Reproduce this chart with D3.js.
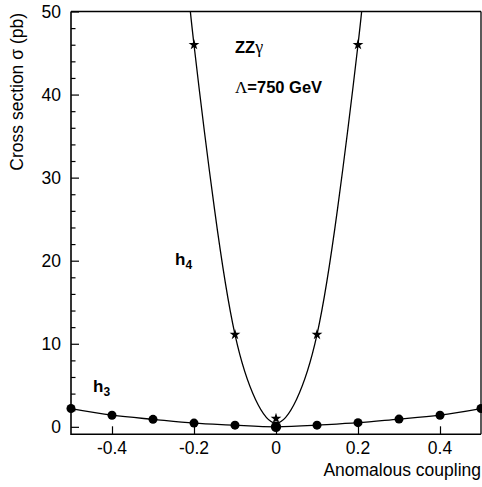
<!DOCTYPE html>
<html>
<head>
<meta charset="utf-8">
<script src="https://cdn.jsdelivr.net/npm/d3@7"></script>
<style>
  html, body { margin: 0; padding: 0; background: #fff; }
  svg { display: block; font-family: "Liberation Sans", Arial, Helvetica, sans-serif; }
</style>
</head>
<body>
<svg id="chart" width="482" height="487"></svg>
<script>
// ---- data ----
const h3X = [-0.5, -0.4, -0.3, -0.2, -0.1, 0, 0.1, 0.2, 0.3, 0.4, 0.5];
const h3Y = [2.2, 1.4, 0.9, 0.45, 0.2, 0.0, 0.2, 0.5, 0.93, 1.4, 2.2];
const h4X = [-0.2, -0.1, 0, 0.1, 0.2];
const h4Y = [46, 11.1, 1.0, 11.1, 46];
// smooth curve drawn through h4
const h4CurveX = [-0.215, -0.2, -0.15, -0.1, -0.05, 0, 0.05, 0.1, 0.15, 0.2, 0.215];
const h4CurveY = [53.3, 46, 26.2, 11.1, 3.3, 0.45, 3.3, 11.1, 26.2, 46, 53.3];
const xTicks = [-0.4, -0.2, 0, 0.2, 0.4];
const xTickLabels = ["-0.4", "-0.2", "0", "0.2", "0.4"];
const yTicks = [0, 10, 20, 30, 40, 50];
const yMinorTicks = d3.range(0, 51, 2);
const xTitle = "Anomalous coupling";
const yTitle = "Cross section σ (pb)";

// ---- layout ----
const L = 71, R = 481, T = 11.5, B = 434.3;
const svg = d3.select("#chart");
const x = d3.scaleLinear().domain([-0.5, 0.5]).range([L, R]);
const y = d3.scaleLinear().domain([-0.9, 50]).range([B, T]);

svg.append("defs").append("clipPath").attr("id", "clip")
  .append("rect").attr("x", L).attr("y", T).attr("width", R - L).attr("height", B - T);

// frame
svg.append("line").attr("x1", L).attr("x2", R).attr("y1", T).attr("y2", T)
  .attr("stroke", "#000").attr("stroke-width", 1.3);
svg.append("line").attr("x1", R).attr("x2", R).attr("y1", T).attr("y2", B)
  .attr("stroke", "#000").attr("stroke-width", 1.3);

// y axis (ticks inward)
const yAxis = d3.axisRight(y).tickValues(yTicks).tickSize(8).tickFormat("");
const gy = svg.append("g").attr("transform", `translate(${L},0)`).call(yAxis);
gy.select(".domain").remove();
const yMinor = d3.axisRight(y).tickValues(yMinorTicks.filter(v => v % 10 !== 0)).tickSize(4.5).tickFormat("");
const gym = svg.append("g").attr("transform", `translate(${L},0)`).call(yMinor);
gym.select(".domain").remove();
svg.selectAll(".tick line").attr("stroke", "#000").attr("stroke-width", 1.2);

svg.append("g").selectAll("text").data(yTicks).join("text")
  .attr("x", L - 10).attr("y", d => y(d)).attr("dy", "0.36em")
  .attr("text-anchor", "end").attr("font-size", 17.5).text(d => d);

// x axis (ticks inward)
const xAxis = d3.axisTop(x).tickValues(xTicks).tickSize(8).tickFormat("");
const gx = svg.append("g").attr("transform", `translate(0,${B})`).call(xAxis);
gx.select(".domain").remove();
gx.selectAll(".tick line").attr("stroke", "#000").attr("stroke-width", 1.2);
svg.append("g").selectAll("text").data(xTicks).join("text")
  .attr("x", d => x(d)).attr("y", 454)
  .attr("text-anchor", "middle").attr("font-size", 17.5)
  .text((d, i) => xTickLabels[i]);

// axis lines
svg.append("line").attr("x1", L).attr("x2", L).attr("y1", T).attr("y2", B + 0.8)
  .attr("stroke", "#000").attr("stroke-width", 1.6);
svg.append("line").attr("x1", L).attr("x2", R).attr("y1", B).attr("y2", B)
  .attr("stroke", "#000").attr("stroke-width", 1.6);

// titles
svg.append("text").attr("x", R).attr("y", 476).attr("text-anchor", "end")
  .attr("font-size", 17.5).text(xTitle);
svg.append("text").attr("transform", `translate(23,${T + 1.5}) rotate(-90)`)
  .attr("text-anchor", "end").attr("font-size", 17.5).text(yTitle);

// curves
const plot = svg.append("g").attr("clip-path", "url(#clip)");
const h3Line = d3.line().x(d => x(d[0])).y(d => y(d[1])).curve(d3.curveNatural);
plot.append("path").datum(h3X.map((v, i) => [v, h3Y[i]]))
  .attr("d", h3Line).attr("fill", "none").attr("stroke", "#000").attr("stroke-width", 1.3);
plot.append("path").datum(h4CurveX.map((v, i) => [v, h4CurveY[i]]))
  .attr("d", h3Line).attr("fill", "none").attr("stroke", "#000").attr("stroke-width", 1.3);

// markers
const pts = svg.append("g");
pts.selectAll("circle").data(h3X.map((v, i) => [v, h3Y[i]])).join("circle")
  .attr("cx", d => x(d[0])).attr("cy", d => y(d[1]))
  .attr("r", (d) => d[0] === 0 ? 5.2 : 4.5).attr("fill", "#000");
const star = d3.symbol().type(d3.symbolStar).size(36);
pts.selectAll("path.star").data(h4X.map((v, i) => [v, h4Y[i]])).join("path")
  .attr("class", "star")
  .attr("transform", d => `translate(${x(d[0])},${y(d[1])})`)
  .attr("d", star).attr("fill", "#000");

// labels
const lab1 = svg.append("text").attr("x", 235).attr("y", 53.3).attr("font-size", 16.5).attr("font-weight", "bold");
lab1.append("tspan").text("ZZ");
lab1.append("tspan").attr("font-weight", "normal").attr("font-family", "'Liberation Serif', 'DejaVu Serif', serif").attr("font-size", 18).text("γ");
const lab2 = svg.append("text").attr("x", 235).attr("y", 93.3).attr("font-size", 16.5).attr("font-weight", "bold");
lab2.append("tspan").attr("font-weight", "normal").attr("font-family", "'Liberation Serif', serif").attr("font-size", 17).text("Λ");
lab2.append("tspan").text("=750 GeV");

function hLabel(px, py, sub) {
  const t = svg.append("text").attr("x", px).attr("y", py).attr("font-size", 17).attr("font-weight", "bold");
  t.append("tspan").text("h");
  t.append("tspan").attr("font-size", 12).attr("dy", 4).text(sub);
}
hLabel(175, 265, "4");
hLabel(93, 392, "3");
</script>
</body>
</html>
